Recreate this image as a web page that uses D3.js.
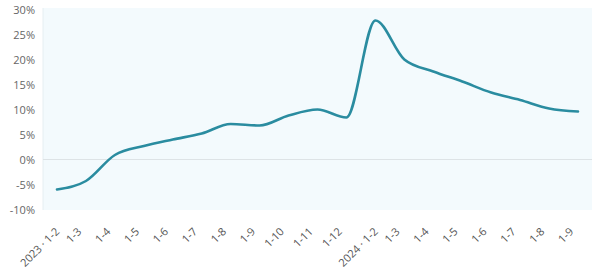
<!DOCTYPE html>
<html><head><meta charset="utf-8">
<script src="https://cdn.jsdelivr.net/npm/d3@7/dist/d3.min.js"></script>
<style>html,body{margin:0;padding:0;background:#fff;}svg{display:block;}</style>
</head><body>
<svg id="c" width="600" height="276"></svg>
<script>
const categories = ["2023 · 1-2","1-3","1-4","1-5","1-6","1-7","1-8","1-9","1-10","1-11","1-12",
  "2024 · 1-2","1-3","1-4","1-5","1-6","1-7","1-8","1-9"];
const values = [-6.0,-4.3,0.9,2.7,4.0,5.2,7.1,6.8,8.8,10.0,8.4,27.8,20.0,17.6,15.6,13.4,11.9,10.2,9.6];
const yTicks = [-10,-5,0,5,10,15,20,25,30];

const svg = d3.select("#c");
const L = 43, R = 592, T = 9.5, B = 209.5;
const keys = categories.map((c,i)=>i);
const x = d3.scalePoint().domain(keys).range([57, 578]);
const y = d3.scaleLinear().domain([-10,30]).range([B, T]);

svg.append("rect").attr("x",L).attr("y",T-1.5).attr("width",R-L).attr("height",B-T+2)
  .attr("fill","#f3fafd");
svg.append("line").attr("x1",L).attr("x2",L).attr("y1",T-1.5).attr("y2",B+0.5)
  .attr("stroke","#e6eef2").attr("stroke-width",1);
svg.append("line").attr("x1",L).attr("x2",R).attr("y1",y(0)).attr("y2",y(0))
  .attr("stroke","#dde3e6").attr("stroke-width",1);

const yAxis = d3.axisLeft(y).tickValues(yTicks).tickFormat(d=>d+"%").tickSize(0).tickPadding(0);
const gy = svg.append("g").attr("transform",`translate(35,0)`).call(yAxis);
gy.select(".domain").remove();
gy.selectAll("text").attr("font-family","'Open Sans', 'Noto Sans', sans-serif").attr("font-size",11).attr("fill","#666");

const xAxis = d3.axisBottom(x).tickFormat(i=>categories[i]).tickSize(0).tickPadding(0);
const gx = svg.append("g").attr("transform",`translate(0,${B+8})`).call(xAxis);
gx.select(".domain").remove();
gx.selectAll("text")
  .attr("font-family","'Open Sans', 'Noto Sans', sans-serif").attr("font-size",11).attr("fill","#555")
  .attr("text-anchor","end")
  .attr("dy","0.35em")
  .attr("transform", i => `translate(${categories[i].length>5 ? 0 : -7},12) rotate(-45)`);

const line = d3.line().x((d,i)=>x(i)).y(d=>y(d)).curve(d3.curveMonotoneX);
svg.append("path").datum(values).attr("d",line).attr("fill","none")
  .attr("stroke","#2a8ca0").attr("stroke-width",2.6).attr("stroke-linecap","round");
</script>
</body></html>
